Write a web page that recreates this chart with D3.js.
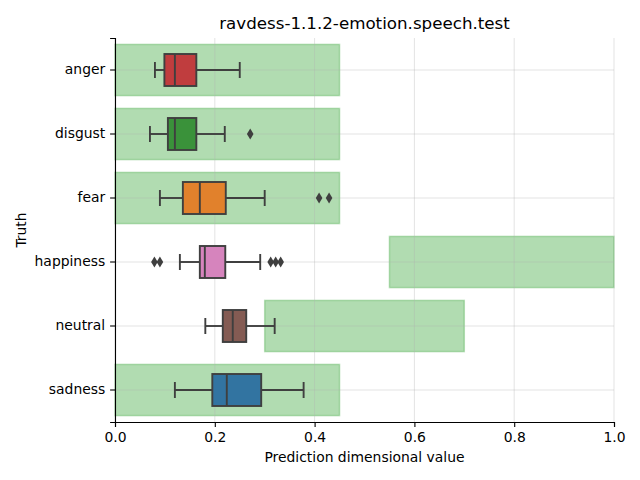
<!DOCTYPE html>
<html><head><meta charset="utf-8">
<script src="https://cdn.jsdelivr.net/npm/d3@7"></script>
<style>body{margin:0;background:#fff;} text{font-family:"DejaVu Sans",sans-serif;}</style>
</head><body><svg id="c" width="640" height="480"></svg>
<script>
const categories = ["anger","disgust","fear","happiness","neutral","sadness"];
const boxColors = ["#c03d3e","#3a923a","#e1812c","#d684bd","#845b53","#3274a1"];
const whiskerLow = [0.080,0.070,0.090,0.130,0.181,0.120];
const q1 = [0.099,0.106,0.136,0.170,0.216,0.195];
const median = [0.120,0.120,0.170,0.180,0.236,0.224];
const q3 = [0.163,0.163,0.222,0.221,0.263,0.293];
const whiskerHigh = [0.250,0.220,0.300,0.291,0.320,0.378];
const outliers = [[],[0.271],[0.409,0.429],[0.079,0.090,0.312,0.322,0.332],[],[]];
const rangeLow = [0.0,0.0,0.0,0.55,0.3,0.0];
const rangeHigh = [0.45,0.45,0.45,1.0,0.7,0.45];
const xTicks = [0,0.2,0.4,0.6,0.8,1.0];

const svg = d3.select("#c");
const L=115,R=614,T=38,B=422;
const x = d3.scaleLinear().domain([0,1]).range([L,R]);
const y = d3.scaleBand().domain(categories).range([T,B]);
const bw = y.bandwidth();

// green ranges
svg.append("g").selectAll("rect").data(categories).join("rect")
  .attr("x",(d,i)=>x(rangeLow[i])).attr("width",(d,i)=>x(rangeHigh[i])-x(rangeLow[i]))
  .attr("y",d=>y(d)+bw*0.1).attr("height",bw*0.8)
  .attr("fill","#2ca02c").attr("fill-opacity",0.37)
  .attr("stroke","#2ca02c").attr("stroke-opacity",0.3).attr("stroke-width",1.5);

// grid
const grid = svg.append("g").attr("stroke","#b0b0b0").attr("stroke-opacity",0.45).attr("stroke-width",0.8);
grid.selectAll("line.v").data(xTicks).join("line").attr("class","v")
  .attr("x1",d=>x(d)).attr("x2",d=>x(d)).attr("y1",T).attr("y2",B);
grid.selectAll("line.h").data(categories).join("line").attr("class","h")
  .attr("x1",L).attr("x2",R).attr("y1",d=>y(d)+bw/2).attr("y2",d=>y(d)+bw/2);

// boxes
const lc="#3f3f3f", lw=1.9;
const bh = bw*0.5;
const g = svg.append("g");
categories.forEach((c,i)=>{
  const cy = y(c)+bw/2;
  g.append("line").attr("x1",x(whiskerLow[i])).attr("x2",x(q1[i])).attr("y1",cy).attr("y2",cy).attr("stroke",lc).attr("stroke-width",lw);
  g.append("line").attr("x1",x(q3[i])).attr("x2",x(whiskerHigh[i])).attr("y1",cy).attr("y2",cy).attr("stroke",lc).attr("stroke-width",lw);
  [whiskerLow[i],whiskerHigh[i]].forEach(v=>{
    g.append("line").attr("x1",x(v)).attr("x2",x(v)).attr("y1",cy-bh/4).attr("y2",cy+bh/4).attr("stroke",lc).attr("stroke-width",lw);
  });
  g.append("rect").attr("x",x(q1[i])).attr("width",x(q3[i])-x(q1[i]))
    .attr("y",cy-bh/2).attr("height",bh).attr("fill",boxColors[i]).attr("stroke",lc).attr("stroke-width",lw);
  g.append("line").attr("x1",x(median[i])).attr("x2",x(median[i])).attr("y1",cy-bh/2).attr("y2",cy+bh/2).attr("stroke",lc).attr("stroke-width",lw);
  outliers[i].forEach(v=>{
    const px=x(v);
    g.append("path").attr("d",`M${px},${cy-5.5}L${px+3.3},${cy}L${px},${cy+5.5}L${px-3.3},${cy}Z`).attr("fill",lc);
  });
});

// axes
const xa = svg.append("g").attr("transform",`translate(0,${B})`)
  .call(d3.axisBottom(x).tickValues(xTicks).tickFormat(d3.format(".1f")).tickSizeOuter(0).tickSize(4.9).tickPadding(4.9));
const ya = svg.append("g").attr("transform",`translate(${L},0)`)
  .call(d3.axisLeft(y).tickSizeOuter(0).tickSize(4.9).tickPadding(4.9));
[xa,ya].forEach(a=>{
  a.selectAll("text").attr("font-family","DejaVu Sans").attr("font-size",13.9).attr("fill","#000");
  a.selectAll("line").attr("stroke","#000").attr("stroke-width",1.1);
  a.select(".domain").attr("stroke","#000").attr("stroke-width",1.1);
});

svg.append("text").attr("x",(L+R)/2).attr("y",29).attr("text-anchor","middle").attr("font-size",16.7).text("ravdess-1.1.2-emotion.speech.test");
svg.append("text").attr("x",(L+R)/2).attr("y",462).attr("text-anchor","middle").attr("font-size",13.9).text("Prediction dimensional value");
svg.append("text").attr("transform",`translate(26,${(T+B)/2}) rotate(-90)`).attr("text-anchor","middle").attr("font-size",13.9).text("Truth");
</script></body></html>
